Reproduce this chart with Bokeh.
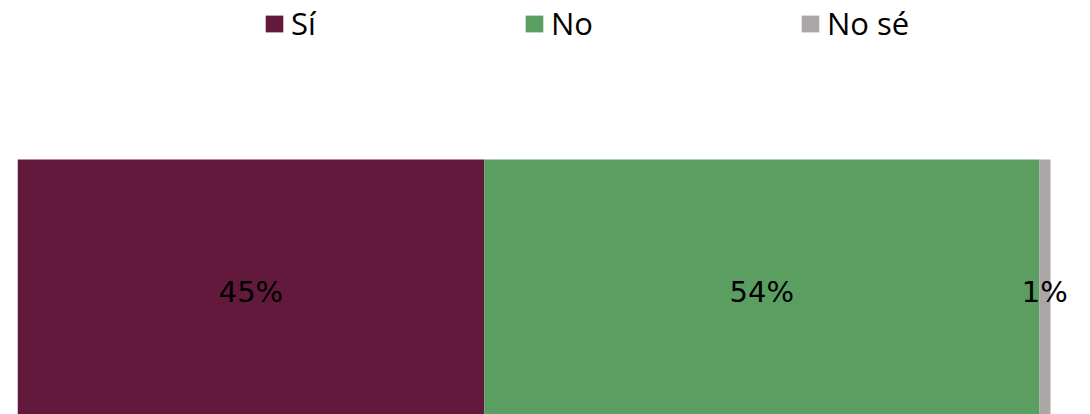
from bokeh.plotting import figure
from bokeh.models import ColumnDataSource, Range1d, Legend, LegendItem, LabelSet
from bokeh.core.properties import value
from bokeh.embed import file_html
from bokeh.resources import INLINE

categories = ["Sí", "No", "No sé"]
values = [45.2, 53.7, 1.1]
labels = ["45%", "54%", "1%"]
colors = ["#62193C", "#5A9E62", "#ABA7A7"]

lefts, rights, mids = [], [], []
acc = 0.0
for v in values:
    lefts.append(acc)
    rights.append(acc + v)
    mids.append(acc + v / 2)
    acc += v
total = acc

src = ColumnDataSource(dict(cat=categories, left=lefts, right=rights, mid=mids,
                            y=[0] * len(values), label=labels, color=colors))

FRAME_W = 1071
BAR_W = 1033
p = figure(width=1090, height=414, output_backend="svg", toolbar_location=None,
           x_range=Range1d(0, total * FRAME_W / BAR_W),
           y_range=Range1d(-0.5 + 9 / 264, 0.5 + 159 / 264),
           min_border_left=17, min_border_right=2, min_border_top=0, min_border_bottom=0)
p.axis.visible = False
p.grid.visible = False
p.outline_line_color = None

r = p.hbar(y="y", left="left", right="right", height=1, color="color", line_color=None, source=src)

p.add_layout(LabelSet(x="mid", y="y", text="label", source=src, text_align="center",
                      text_baseline="middle", text_font=value("DejaVu Sans"),
                      text_font_size=value("29px"), text_color="#000000"))

leg_x = [246, 506, 782]
for i, cat in enumerate(categories):
    lg = Legend(items=[LegendItem(label=cat, renderers=[r], index=i)],
                location=(leg_x[i], 370), orientation="horizontal",
                padding=0, margin=0, spacing=0, border_line_color=None,
                background_fill_alpha=0, glyph_width=22, glyph_height=21,
                label_standoff=6, label_height=36, label_text_font="Open Sans",
                label_text_font_size="31px", label_text_color="#000000")
    p.add_layout(lg, "center")

open("out.html", "w").write(file_html(p, INLINE))
